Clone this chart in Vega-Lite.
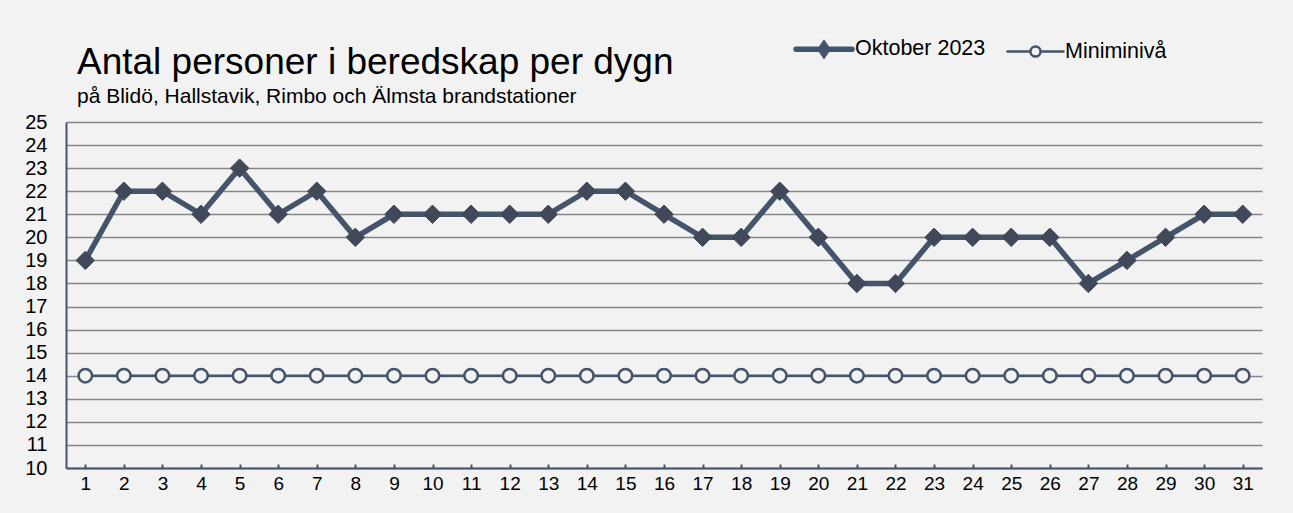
{
  "$schema": "https://vega.github.io/schema/vega-lite/v6.json",
  "width": 1196,
  "height": 346,
  "autosize": {"type": "none"},
  "padding": {"left": 66, "top": 122, "right": 31, "bottom": 45},
  "background": "#f2f2f2",
  "title": {
    "text": "Antal personer i beredskap per dygn",
    "subtitle": "på Blidö, Hallstavik, Rimbo och Älmsta brandstationer",
    "anchor": "start",
    "frame": "group",
    "dx": 11,
    "font": "Liberation Sans",
    "fontSize": 37,
    "fontWeight": "normal",
    "color": "#000000",
    "subtitleFont": "Liberation Sans",
    "subtitleFontSize": 21,
    "subtitleColor": "#000000",
    "subtitlePadding": 4,
    "offset": -90
  },
  "data": {
    "values": [
      {"day": "1", "series": "Oktober 2023", "value": 19},
      {"day": "2", "series": "Oktober 2023", "value": 22},
      {"day": "3", "series": "Oktober 2023", "value": 22},
      {"day": "4", "series": "Oktober 2023", "value": 21},
      {"day": "5", "series": "Oktober 2023", "value": 23},
      {"day": "6", "series": "Oktober 2023", "value": 21},
      {"day": "7", "series": "Oktober 2023", "value": 22},
      {"day": "8", "series": "Oktober 2023", "value": 20},
      {"day": "9", "series": "Oktober 2023", "value": 21},
      {"day": "10", "series": "Oktober 2023", "value": 21},
      {"day": "11", "series": "Oktober 2023", "value": 21},
      {"day": "12", "series": "Oktober 2023", "value": 21},
      {"day": "13", "series": "Oktober 2023", "value": 21},
      {"day": "14", "series": "Oktober 2023", "value": 22},
      {"day": "15", "series": "Oktober 2023", "value": 22},
      {"day": "16", "series": "Oktober 2023", "value": 21},
      {"day": "17", "series": "Oktober 2023", "value": 20},
      {"day": "18", "series": "Oktober 2023", "value": 20},
      {"day": "19", "series": "Oktober 2023", "value": 22},
      {"day": "20", "series": "Oktober 2023", "value": 20},
      {"day": "21", "series": "Oktober 2023", "value": 18},
      {"day": "22", "series": "Oktober 2023", "value": 18},
      {"day": "23", "series": "Oktober 2023", "value": 20},
      {"day": "24", "series": "Oktober 2023", "value": 20},
      {"day": "25", "series": "Oktober 2023", "value": 20},
      {"day": "26", "series": "Oktober 2023", "value": 20},
      {"day": "27", "series": "Oktober 2023", "value": 18},
      {"day": "28", "series": "Oktober 2023", "value": 19},
      {"day": "29", "series": "Oktober 2023", "value": 20},
      {"day": "30", "series": "Oktober 2023", "value": 21},
      {"day": "31", "series": "Oktober 2023", "value": 21},
      {"day": "1", "series": "Miniminivå", "value": 14},
      {"day": "2", "series": "Miniminivå", "value": 14},
      {"day": "3", "series": "Miniminivå", "value": 14},
      {"day": "4", "series": "Miniminivå", "value": 14},
      {"day": "5", "series": "Miniminivå", "value": 14},
      {"day": "6", "series": "Miniminivå", "value": 14},
      {"day": "7", "series": "Miniminivå", "value": 14},
      {"day": "8", "series": "Miniminivå", "value": 14},
      {"day": "9", "series": "Miniminivå", "value": 14},
      {"day": "10", "series": "Miniminivå", "value": 14},
      {"day": "11", "series": "Miniminivå", "value": 14},
      {"day": "12", "series": "Miniminivå", "value": 14},
      {"day": "13", "series": "Miniminivå", "value": 14},
      {"day": "14", "series": "Miniminivå", "value": 14},
      {"day": "15", "series": "Miniminivå", "value": 14},
      {"day": "16", "series": "Miniminivå", "value": 14},
      {"day": "17", "series": "Miniminivå", "value": 14},
      {"day": "18", "series": "Miniminivå", "value": 14},
      {"day": "19", "series": "Miniminivå", "value": 14},
      {"day": "20", "series": "Miniminivå", "value": 14},
      {"day": "21", "series": "Miniminivå", "value": 14},
      {"day": "22", "series": "Miniminivå", "value": 14},
      {"day": "23", "series": "Miniminivå", "value": 14},
      {"day": "24", "series": "Miniminivå", "value": 14},
      {"day": "25", "series": "Miniminivå", "value": 14},
      {"day": "26", "series": "Miniminivå", "value": 14},
      {"day": "27", "series": "Miniminivå", "value": 14},
      {"day": "28", "series": "Miniminivå", "value": 14},
      {"day": "29", "series": "Miniminivå", "value": 14},
      {"day": "30", "series": "Miniminivå", "value": 14},
      {"day": "31", "series": "Miniminivå", "value": 14}
    ]
  },
  "encoding": {
    "x": {
      "field": "day",
      "type": "ordinal",
      "sort": null,
      "scale": {"type": "point", "padding": 0.5},
      "axis": {
        "title": null,
        "labelAngle": 0,
        "labelFont": "Liberation Sans",
        "labelFontSize": 19,
        "labelColor": "#000000",
        "labelPadding": 10,
        "domainColor": "#44546a",
        "domainWidth": 2,
        "tickColor": "#44546a",
        "tickWidth": 2,
        "tickSize": -4,
        "grid": false
      }
    },
    "y": {
      "field": "value",
      "type": "quantitative",
      "scale": {"domain": [10, 25], "nice": false, "zero": false},
      "axis": {
        "title": null,
        "values": [10, 11, 12, 13, 14, 15, 16, 17, 18, 19, 20, 21, 22, 23, 24, 25],
        "labelFont": "Liberation Sans",
        "labelFontSize": 20,
        "labelColor": "#000000",
        "labelPadding": 19,
        "ticks": false,
        "domainColor": "#44546a",
        "domainWidth": 2,
        "grid": true,
        "gridColor": "#868686",
        "gridWidth": 1.6
      }
    }
  },
  "layer": [
    {
      "mark": {"type": "line"},
      "encoding": {
        "color": {
          "field": "series",
          "type": "nominal",
          "scale": {"domain": ["Oktober 2023", "Miniminivå"], "range": ["#44546a", "#44546a"]},
          "legend": {
            "title": null,
            "orient": "none",
            "direction": "horizontal",
            "legendX": 727,
            "legendY": -104,
            "padding": 0,
            "symbolSize": 3136,
            "symbolType": "M-1,0H1",
            "columnPadding": 16,
            "labelOffset": 0,
            "labelFont": "Liberation Sans",
            "labelFontSize": 21.5,
            "labelColor": "#000000",
            "encode": {
              "symbols": {
                "update": {
                  "shape": {"signal": "datum.value === 'Oktober 2023' ? 'M-1,0H1M-0.13,0L0,-0.19L0.13,0L0,0.19Z' : 'M-1,0H-0.18M0.18,0H1M-0.18,0A0.18,0.18 0 1,1 0.18,0A0.18,0.18 0 1,1 -0.18,0Z'"},
                  "strokeWidth": {"signal": "datum.value === 'Oktober 2023' ? 6.5 : 2.5"},
                  "fill": {"signal": "datum.value === 'Oktober 2023' ? '#404859' : '#f2f2f2'"},
                  "stroke": {"value": "#44546a"},
                  "opacity": {"value": 1},
                  "strokeCap": {"value": "round"}
                }
              }
            }
          }
        },
        "strokeWidth": {
          "field": "series",
          "type": "nominal",
          "scale": {"domain": ["Oktober 2023", "Miniminivå"], "range": [5.5, 2.5]},
          "legend": null
        }
      }
    },
    {
      "transform": [{"filter": "datum.series === 'Oktober 2023'"}],
      "mark": {"type": "point", "shape": "diamond", "filled": true, "opacity": 1, "size": 340, "color": "#404859", "stroke": "#404859", "strokeWidth": 1}
    },
    {
      "transform": [{"filter": "datum.series === 'Miniminivå'"}],
      "mark": {"type": "point", "shape": "circle", "filled": false, "opacity": 1, "size": 180, "fill": "#f2f2f2", "fillOpacity": 1, "stroke": "#44546a", "strokeWidth": 2.5}
    }
  ],
  "config": {
    "view": {"stroke": null},
    "font": "Liberation Sans"
  }
}
